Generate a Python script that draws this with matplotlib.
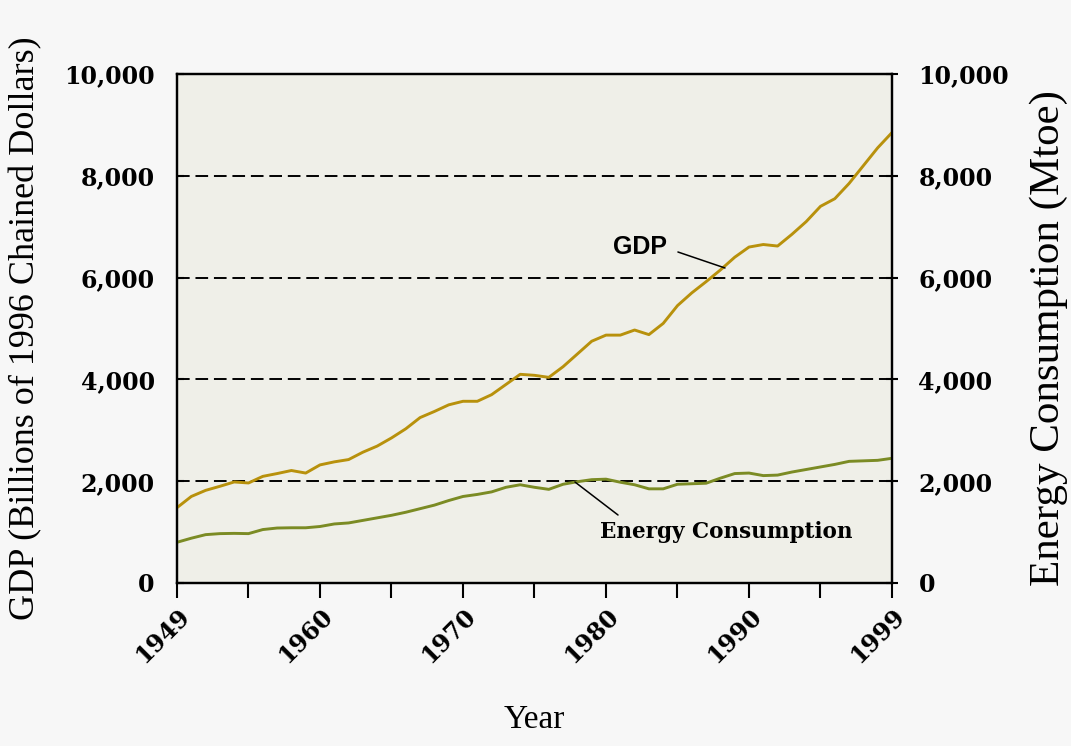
import matplotlib
matplotlib.use("Agg")
import matplotlib.pyplot as plt

years = list(range(1949, 2000))
gdp = [1480, 1700, 1820, 1900, 1985, 1965, 2095, 2150, 2210, 2160,
       2320, 2380, 2425, 2570, 2690, 2850, 3030, 3250, 3370, 3500,
       3570, 3570, 3700, 3900, 4100, 4080, 4040, 4250, 4500, 4750,
       4870, 4870, 4970, 4880, 5100, 5450, 5700, 5920, 6150, 6400,
       6600, 6650, 6620, 6850, 7100, 7400, 7550, 7850, 8200, 8550,
       8850]
energy = [800, 880, 950, 970, 975, 970, 1050, 1080, 1085, 1085,
          1110, 1160, 1180, 1230, 1280, 1330, 1390, 1460, 1530, 1620,
          1700, 1740, 1790, 1880, 1930, 1880, 1840, 1940, 1990, 2030,
          2040, 1980, 1930, 1850, 1850, 1940, 1950, 1960, 2060, 2150,
          2160, 2110, 2120, 2180, 2230, 2280, 2330, 2390, 2400, 2410,
          2450]

x_ticks = list(range(1949, 2000, 5))
x_tick_labels = ["1949", "", "1960", "", "1970", "", "1980", "", "1990", "", "1999"]
y_ticks = [0, 2000, 4000, 6000, 8000, 10000]
y_tick_labels = ["0", "2,000", "4,000", "6,000", "8,000", "10,000"]

gdp_color = "#b8910c"
energy_color = "#7b8b24"

fig = plt.figure(figsize=(10.71, 7.46), dpi=100, facecolor="#f7f7f7")
ax = fig.add_axes([177/1071, 1-583/746, (892-177)/1071, (583-74)/746])
ax.set_facecolor("#efefe8")

ax.plot(years, gdp, color=gdp_color, lw=2.1, zorder=3)
ax.plot(years, energy, color=energy_color, lw=2.1, zorder=3)

ax.set_xlim(1949, 1999)
ax.set_ylim(0, 10000)

for v in y_ticks[1:-1]:
    ax.axhline(v, color="black", lw=1.4, dashes=(6.5, 3), zorder=2)

for s in ax.spines.values():
    s.set_linewidth(1.6)
    s.set_color("black")

tick_font = dict(family="DejaVu Serif", weight="bold", size=17)

ax.set_xticks(x_ticks)
ax.set_xticklabels(x_tick_labels, rotation=45, ha="right", va="top",
                   rotation_mode="anchor", fontdict=tick_font)
ax.tick_params(axis="x", direction="out", length=11, width=1.5, pad=4)

ax.set_yticks(y_ticks)
ax.set_yticklabels(y_tick_labels, fontdict=tick_font)
ax.tick_params(axis="y", direction="in", length=5, width=1.5, pad=16)

ax2 = ax.twinx()
ax2.set_ylim(0, 10000)
ax2.set_yticks(y_ticks)
ax2.set_yticklabels(y_tick_labels, fontdict=tick_font)
ax2.tick_params(axis="y", direction="inout", length=8, width=1.5, pad=15)
for s in ax2.spines.values():
    s.set_linewidth(1.6)

ax.set_ylabel("GDP (Billions of 1996 Chained Dollars)", family="Liberation Serif",
              size=26, labelpad=16)
ax2.set_ylabel("Energy Consumption (Mtoe)", family="Liberation Serif",
               size=31, rotation=90)
ax2.yaxis.set_label_coords(1.192, 0.482)
ax.set_xlabel("Year", family="Liberation Serif", size=24, labelpad=27)

ax.text(1981.4, 6601, "GDP", ha="center", va="center", family="Liberation Sans",
        weight="bold", size=18, zorder=4)
ax.annotate("", xy=(1987.32, 6189), xytext=(1984.03, 6503),
            arrowprops=dict(arrowstyle="-", color="black", lw=1.1,
                            shrinkA=0, shrinkB=0), zorder=4)
ax.text(1987.4, 1002, "Energy Consumption", ha="center", va="center",
        family="DejaVu Serif", weight="bold", size=15.5, zorder=4)
ax.annotate("", xy=(1976.83, 1984), xytext=(1979.84, 1336),
            arrowprops=dict(arrowstyle="-", color="black", lw=1.1,
                            shrinkA=0, shrinkB=0), zorder=4)

fig.savefig("out.png", dpi=100, facecolor=fig.get_facecolor())
